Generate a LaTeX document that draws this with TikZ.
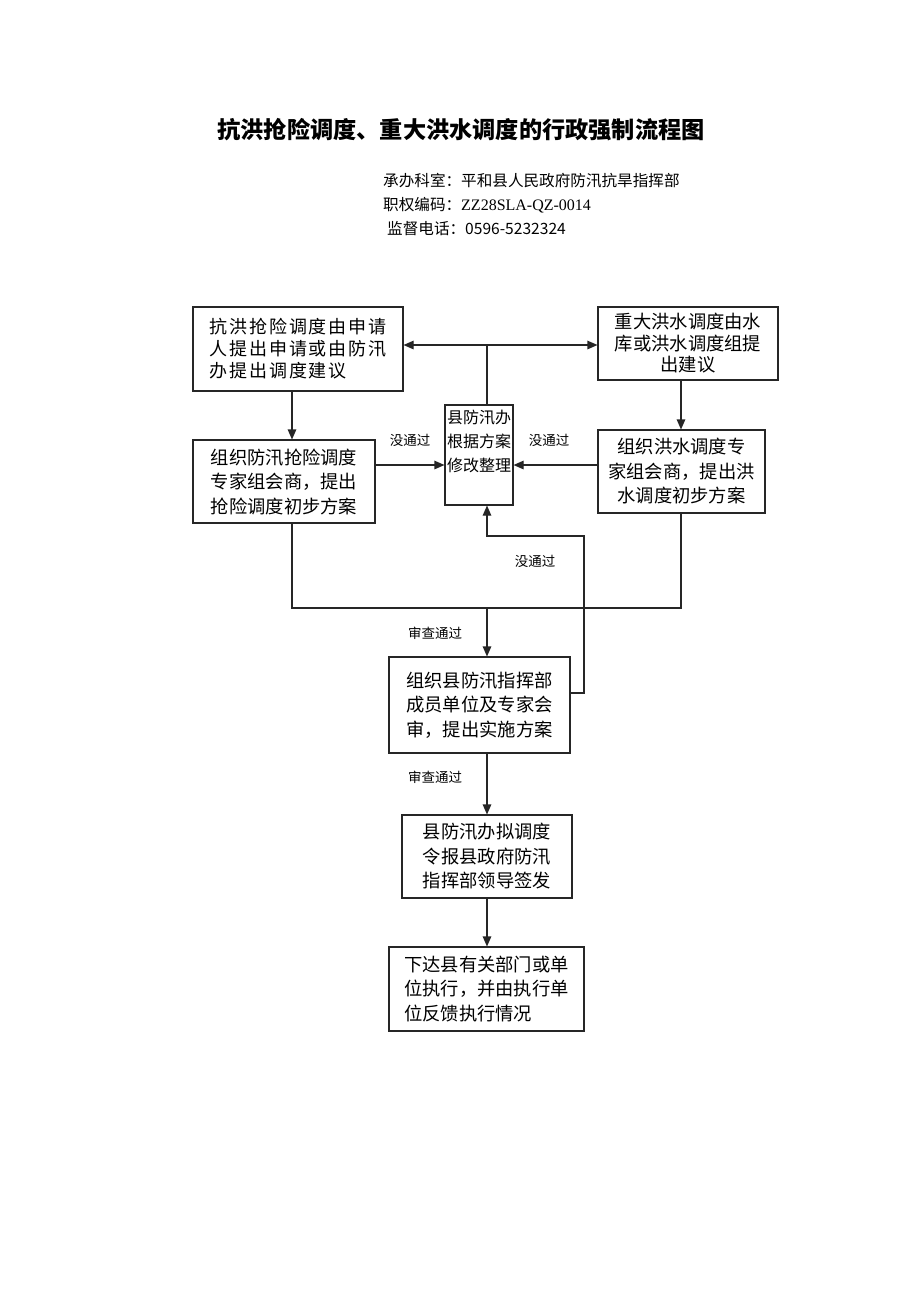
\documentclass[tikz,border=0pt]{standalone}
\usepackage{fontspec}
\setmainfont{Liberation Serif}
\newfontfamily\cjk{Noto Sans CJK SC}
\newfontfamily\cjkwide{Noto Sans CJK SC}[LetterSpace=11]
\usetikzlibrary{arrows.meta}
\begin{document}
\begin{tikzpicture}[x=1pt,y=-1pt,
  box/.style={draw=black!85,line width=1.1pt,inner sep=0pt,align=center,
    font=\cjk\fontsize{18.3}{24.5}\selectfont},
  ln/.style={draw=black!85,line width=1.1pt},
  arr/.style={ln,-{Triangle[length=10pt,width=8.5pt]}},
  lab/.style={font=\cjk\fontsize{13.5}{15}\selectfont,inner sep=0pt}]
\useasboundingbox (0,0) rectangle (920,1302);
% title and info
\node[font=\cjk\bfseries\fontsize{23.2}{27}\selectfont] (title) at (461,130) {抗洪抢险调度、重大洪水调度的行政强制流程图};
\node[anchor=west,inner sep=0pt,font=\cjk\fontsize{15.6}{18}\selectfont] (info1) at (383,181) {承办科室：平和县人民政府防汛抗旱指挥部};
\node[anchor=west,inner sep=0pt,font=\fontsize{16}{18}\selectfont] (info2) at (383,205) {{\cjk\fontsize{15.6}{18}\selectfont 职权编码：}ZZ28SLA-QZ-0014};
\node[anchor=west,inner sep=0pt,font=\cjk\fontsize{15.6}{18}\selectfont] (info3) at (387,229) {监督电话：0596-5232324};
% boxes
\node[box,minimum width=210,minimum height=84,align=left,font=\cjkwide\fontsize{18}{22}\selectfont] (A) at (298,349) {抗洪抢险调度由申请\\人提出申请或由防汛\\办提出调度建议};
\node[box,minimum width=180,minimum height=73,font=\cjk\fontsize{18.3}{21.5}\selectfont] (B) at (688,343.5) {重大洪水调度由水\\库或洪水调度组提\\出建议};
\node[box,minimum width=68,minimum height=100] (C) at (479,455) {};
\node[anchor=north,inner sep=0pt,align=center,font=\cjk\fontsize{16}{24}\selectfont] (Ct) at (479,410) {县防汛办\\根据方案\\修改整理};
\node[box,minimum width=182,minimum height=83,align=left] (D) at (284,481.5) {组织防汛抢险调度\\专家组会商，提出\\抢险调度初步方案};
\node[box,minimum width=167,minimum height=83] (E) at (681.5,471.5) {组织洪水调度专\\家组会商，提出洪\\水调度初步方案};
\node[box,minimum width=181,minimum height=96] (F) at (479.5,705) {组织县防汛指挥部\\成员单位及专家会\\审，提出实施方案};
\node[box,minimum width=170,minimum height=83] (G) at (487,856.5) {县防汛办拟调度\\令报县政府防汛\\指挥部领导签发};
\node[box,minimum width=195,minimum height=84,align=left] (H) at (486.5,989) {下达县有关部门或单\\位执行，并由执行单\\位反馈执行情况};
% coordinates
\coordinate (jt) at (487,345);
\coordinate (xl) at (292,0);
\coordinate (xr) at (681,0);
\coordinate (xm) at (487,0);
\coordinate (ym) at (0,465);
\coordinate (bl) at (292,608);
\coordinate (br) at (681,608);
\coordinate (bm) at (487,608);
\coordinate (fr) at (584,693);
\coordinate (ft) at (584,536);
\coordinate (ct) at (487,536);
% connectors
\draw[arr] (jt) -- (jt -| A.east);
\draw[arr] (jt) -- (jt -| B.west);
\draw[ln] (jt) -- (C.north -| jt);
\draw[arr] (A.south -| xl) -- (D.north -| xl);
\draw[arr] (B.south -| xr) -- (E.north -| xr);
\draw[arr] (D.east |- ym) -- (C.west |- ym);
\draw[arr] (E.west |- ym) -- (C.east |- ym);
\node[lab] (l1) at (410,440) {没通过};
\node[lab] (l2) at (549,440) {没通过};
\draw[ln] (D.south -| xl) -- (bl) -- (br) -- (E.south -| xr);
\draw[arr] (bm) -- (F.north -| bm);
\node[lab] (l3) at (435,633) {审查通过};
\draw[arr] (F.east |- fr) -- (fr) -- (ft) -- (ct) -- (C.south -| ct);
\node[lab] (l4) at (535,561) {没通过};
\draw[arr] (F.south -| xm) -- (G.north -| xm);
\node[lab] (l5) at (435,777) {审查通过};
\draw[arr] (G.south -| xm) -- (H.north -| xm);
\end{tikzpicture}
\end{document}
